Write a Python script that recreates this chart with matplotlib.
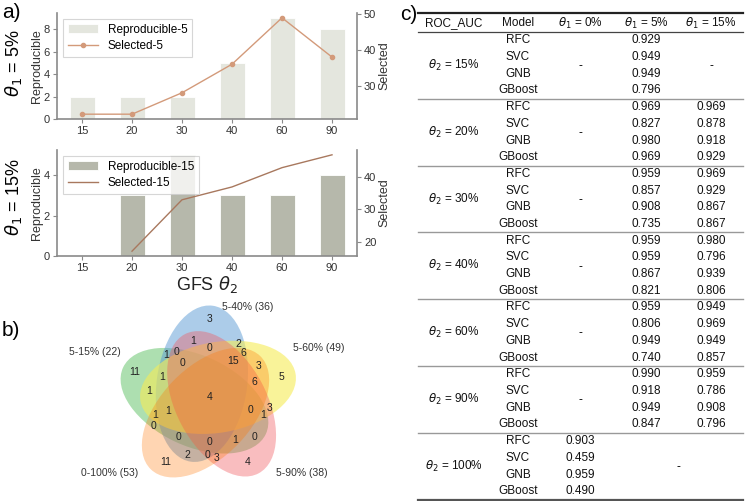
import numpy as np
import matplotlib
matplotlib.use('Agg')
import matplotlib.pyplot as plt
from matplotlib.patches import Ellipse
from matplotlib.ticker import MultipleLocator

plt.rcParams['font.family'] = ['Liberation Sans', 'DejaVu Sans']

# ---------------- data ----------------
gfs_theta2 = ['15', '20', '30', '40', '60', '90']
reproducible_5 = [2, 2, 2, 5, 9, 8]
selected_5 = [22, 22, 28, 36, 49, 38]
reproducible_15 = [0, 3, 5, 3, 3, 4]
selected_15 = [np.nan, 17, 33, 37, 43, 47]

venn_names = ['5-15% (22)', '5-40% (36)', '5-60% (49)', '5-90% (38)', '0-100% (53)']
venn_counts = {
    '10000': 11, '01000': 3, '00100': 5, '00010': 4, '00001': 11,
    '00011': 3, '00101': 3, '00110': 3, '00111': 6, '01001': 2,
    '01010': 1, '01011': 0, '01100': 2, '01101': 6, '01110': 0,
    '01111': 15, '10001': 0, '10010': 0, '10011': 1, '10100': 1,
    '10101': 1, '10110': 1, '10111': 0, '11000': 1, '11001': 0,
    '11010': 0, '11011': 0, '11100': 1, '11101': 1, '11110': 0,
    '11111': 4,
}

table_header = ['ROC_AUC', 'Model', r'$\theta_1$ = 0%', r'$\theta_1$ = 5%', r'$\theta_1$ = 15%']
theta2_groups = ['15%', '20%', '30%', '40%', '60%', '90%', '100%']
models = ['RFC', 'SVC', 'GNB', 'GBoost']
auc_theta1_0 = [None, None, None, None, None, None, [0.903, 0.459, 0.959, 0.490]]
auc_theta1_5 = [[0.929, 0.949, 0.949, 0.796], [0.969, 0.827, 0.980, 0.969],
                [0.959, 0.857, 0.908, 0.735], [0.959, 0.959, 0.867, 0.821],
                [0.959, 0.806, 0.949, 0.740], [0.990, 0.918, 0.949, 0.847], None]
auc_theta1_15 = [None, [0.969, 0.878, 0.918, 0.929], [0.969, 0.929, 0.867, 0.867],
                 [0.980, 0.796, 0.939, 0.806], [0.949, 0.969, 0.949, 0.857],
                 [0.959, 0.786, 0.908, 0.796], None]

W, H = 745, 501
fig = plt.figure(figsize=(W / 100, H / 100), dpi=100)

SPINE = '#8a8a8a'
TXT = '#333333'


def px_rect(x0, y0, x1, y1):
    return [x0 / W, 1 - y1 / H, (x1 - x0) / W, (y1 - y0) / H]


def bar_panel(rect, rep, sel, bar_color, line_color, rep_label, sel_label, marker, right_loc):
    ax = fig.add_axes(rect)
    x = np.arange(len(gfs_theta2))
    b = ax.bar(x, rep, width=0.5, color=bar_color, edgecolor='white', linewidth=0.6, label=rep_label)
    ax.set_xlim(-0.5, len(gfs_theta2) - 0.5)
    ax.set_xticks(x, gfs_theta2)
    ax.yaxis.set_major_locator(MultipleLocator(2))
    ax.set_ylabel('Reproducible', fontsize=9, color=TXT)
    ax.yaxis.set_label_coords(-0.048, 0.5)
    ax2 = ax.twinx()
    l, = ax2.plot(x, sel, color=line_color, marker=marker, markersize=3, lw=1.0, label=sel_label)
    ax2.yaxis.set_major_locator(MultipleLocator(right_loc))
    ax2.set_ylabel('Selected', fontsize=9, color=TXT)
    ax2.yaxis.set_label_coords(1.072, 0.5)
    for a in (ax, ax2):
        for s in a.spines.values():
            s.set_color(SPINE)
            s.set_linewidth(1.2)
        a.spines['top'].set_visible(False)
        a.tick_params(labelsize=8, colors=SPINE, labelcolor=TXT, length=3, width=0.8, pad=2)
    ax.spines['right'].set_visible(False)
    ax2.spines['left'].set_visible(False)
    ax2.spines['bottom'].set_visible(False)
    leg = ax2.legend([b, l], [rep_label, sel_label], loc='upper left', fontsize=8.5,
                     frameon=True, edgecolor='#cccccc', fancybox=False,
                     borderpad=0.4, handlelength=2.6, labelspacing=0.4)
    leg.get_frame().set_linewidth(0.8)
    return ax, ax2


ax_top, _ = bar_panel(px_rect(57, 13, 357, 119), reproducible_5, selected_5,
                      '#e4e6de', '#d39a7a', 'Reproducible-5', 'Selected-5', 'o', 10)
ax_bot, _ = bar_panel(px_rect(57, 150, 357, 256), reproducible_15, selected_15,
                      '#b6b8ab', '#a8785e', 'Reproducible-15', 'Selected-15', None, 10)
ax_bot.set_xlabel(r'GFS $\theta_2$', fontsize=13, color='#222222', labelpad=1)

fig.text(2 / W, 1 - 13 / H, 'a)', fontsize=15, va='center', ha='left')
fig.text(14 / W, 1 - 63 / H, r'$\theta_1$ = 5%', fontsize=13, rotation=90, va='center', ha='center')
fig.text(14 / W, 1 - 197 / H, r'$\theta_1$ = 15%', fontsize=13, rotation=90, va='center', ha='center')
fig.text(2 / W, 1 - 330 / H, 'b)', fontsize=15, va='center', ha='left')
fig.text(400 / W, 1 - 14 / H, 'c)', fontsize=15, va='center', ha='left')

# ---------------- Venn (pyvenn 5-set layout) ----------------
axv = fig.add_axes(px_rect(117, 301, 298, 482))
axv.set_xlim(0, 1)
axv.set_ylim(0, 1)
axv.set_axis_off()
venn_colors = [(92 / 255, 192 / 255, 98 / 255, 0.5), (90 / 255, 155 / 255, 212 / 255, 0.5),
               (246 / 255, 236 / 255, 86 / 255, 0.6), (241 / 255, 90 / 255, 96 / 255, 0.4),
               (255 / 255, 117 / 255, 0, 0.3)]
ell = [(0.428, 0.449, 155.0), (0.469, 0.543, 82.0), (0.558, 0.523, 10.0),
       (0.578, 0.432, 118.0), (0.489, 0.383, 46.0)]
for (cx, cy, ang), c in zip(ell, venn_colors):
    axv.add_patch(Ellipse((cx, cy), 0.87, 0.50, angle=ang, color=c, clip_on=False, lw=0))
label_pos = {
    '00001': (0.27, 0.11), '00010': (0.72, 0.11), '00011': (0.55, 0.13), '00100': (0.91, 0.58),
    '00101': (0.78, 0.64), '00110': (0.84, 0.41), '00111': (0.76, 0.55), '01000': (0.51, 0.90),
    '01001': (0.39, 0.15), '01010': (0.42, 0.78), '01011': (0.50, 0.15), '01100': (0.67, 0.76),
    '01101': (0.70, 0.71), '01110': (0.51, 0.74), '01111': (0.64, 0.67), '10000': (0.10, 0.61),
    '10001': (0.20, 0.31), '10010': (0.76, 0.25), '10011': (0.65, 0.23), '10100': (0.18, 0.50),
    '10101': (0.21, 0.37), '10110': (0.81, 0.37), '10111': (0.74, 0.40), '11000': (0.27, 0.70),
    '11001': (0.34, 0.25), '11010': (0.33, 0.72), '11011': (0.51, 0.22), '11100': (0.25, 0.58),
    '11101': (0.28, 0.39), '11110': (0.36, 0.66), '11111': (0.51, 0.47),
}
for k, v in venn_counts.items():
    x, y = label_pos[k]
    axv.text(x, y, str(v), fontsize=7.5, ha='center', va='center', color='#222222')
name_pos = [(0.02, 0.72, 'right', 'center'), (0.72, 0.94, 'center', 'bottom'),
            (0.97, 0.74, 'left', 'center'), (0.88, 0.05, 'left', 'center'),
            (0.12, 0.05, 'right', 'center')]
for nm, (x, y, ha, va) in zip(venn_names, name_pos):
    axv.text(x, y, nm, fontsize=7.5, ha=ha, va=va, color='#333333')

# ---------------- Table ----------------
axt = fig.add_axes([0, 0, 1, 1], zorder=-1)
axt.set_xlim(0, W)
axt.set_ylim(H, 0)
axt.set_axis_off()
col_x = [454, 518, 580, 646, 711]
x_left, x_right = 418, 743
header_y, row0_y, row_h = 23, 40.3, 16.7
FS = 8.5
for cx, h in zip(col_x, table_header):
    axt.text(cx, header_y, h, fontsize=FS, ha='center', va='center', color='#111111')
axt.plot([x_left, x_right], [13, 13], color='#222222', lw=1.6)
axt.plot([x_left, x_right], [31.5, 31.5], color='#444444', lw=0.9)
n = len(models)
for g, grp in enumerate(theta2_groups):
    ys = [row0_y + (g * n + i) * row_h for i in range(n)]
    ymid = (ys[0] + ys[-1]) / 2
    axt.text(col_x[0], ymid, r'$\theta_2$ = ' + grp, fontsize=FS, ha='center', va='center', color='#111111')
    for i, m in enumerate(models):
        axt.text(col_x[1], ys[i], m, fontsize=FS, ha='center', va='center', color='#111111')
    cols = [auc_theta1_0[g], auc_theta1_5[g], auc_theta1_15[g]]
    for j, vals in enumerate(cols):
        if vals is not None:
            for i, v in enumerate(vals):
                axt.text(col_x[2 + j], ys[i], f'{v:.3f}', fontsize=FS, ha='center', va='center', color='#111111')
    if cols[1] is None and cols[2] is None:
        axt.text((col_x[3] + col_x[4]) / 2, ymid + 1, '-', fontsize=FS, ha='center', va='center')
    else:
        for j, vals in enumerate(cols):
            if vals is None:
                axt.text(col_x[2 + j], ymid + 1, '-', fontsize=FS, ha='center', va='center')
    ysep = ys[-1] + row_h / 2
    if g < len(theta2_groups) - 1:
        axt.plot([x_left, x_right], [ysep, ysep], color='#999999', lw=1.0)
    else:
        axt.plot([x_left, x_right], [ysep, ysep], color='#555555', lw=1.6)

fig.savefig('out.png', dpi=100)
